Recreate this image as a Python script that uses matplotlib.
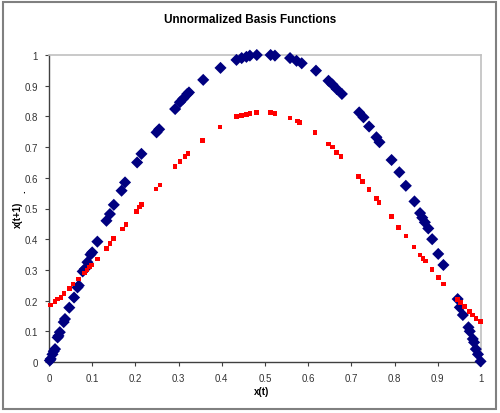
import matplotlib
matplotlib.use("Agg")
import matplotlib.pyplot as plt
from matplotlib.patches import Rectangle

plt.rcParams['font.family'] = ['Liberation Sans', 'DejaVu Sans']

title = "Unnormalized Basis Functions"
xlabel = "x(t)"
ylabel = "x(t+1)"
ticks = [0, 0.1, 0.2, 0.3, 0.4, 0.5, 0.6, 0.7, 0.8, 0.9, 1]
tick_labels = ["0", "0.1", "0.2", "0.3", "0.4", "0.5", "0.6", "0.7", "0.8", "0.9", "1"]

blue_x = [0.002, 0.004, 0.008, 0.011, 0.014, 0.020, 0.022, 0.025, 0.034, 0.037,
          0.047, 0.058, 0.066, 0.069, 0.078, 0.083, 0.089, 0.096, 0.100, 0.112,
          0.133, 0.141, 0.150, 0.168, 0.176, 0.204, 0.214, 0.249, 0.255, 0.292,
          0.303, 0.311, 0.320, 0.324, 0.357, 0.397, 0.434, 0.446, 0.457, 0.465,
          0.481, 0.513, 0.523, 0.558, 0.573, 0.585, 0.618, 0.647, 0.656, 0.666,
          0.678, 0.718, 0.728, 0.741, 0.758, 0.765, 0.793, 0.811, 0.826, 0.846,
          0.859, 0.864, 0.870, 0.878, 0.887, 0.901, 0.913, 0.946, 0.951, 0.958,
          0.971, 0.974, 0.981, 0.984, 0.988, 0.993, 0.999]
blue_y = [0.005, 0.010, 0.025, 0.035, 0.042, 0.080, 0.085, 0.097, 0.130, 0.140,
          0.177, 0.210, 0.243, 0.249, 0.295, 0.303, 0.325, 0.350, 0.357, 0.392,
          0.460, 0.482, 0.512, 0.558, 0.585, 0.650, 0.678, 0.748, 0.758, 0.824,
          0.846, 0.858, 0.873, 0.878, 0.919, 0.958, 0.984, 0.990, 0.994, 0.998,
          1.000, 1.000, 0.998, 0.990, 0.981, 0.973, 0.949, 0.916, 0.904, 0.889,
          0.873, 0.813, 0.797, 0.767, 0.732, 0.716, 0.658, 0.618, 0.574, 0.523,
          0.485, 0.470, 0.455, 0.435, 0.400, 0.352, 0.316, 0.205, 0.178, 0.153,
          0.113, 0.100, 0.075, 0.064, 0.042, 0.025, 0.002]

red_x = [0.004, 0.014, 0.020, 0.028, 0.035, 0.047, 0.056, 0.068, 0.082, 0.088,
         0.094, 0.099, 0.112, 0.133, 0.141, 0.150, 0.170, 0.178, 0.203, 0.209,
         0.214, 0.248, 0.257, 0.292, 0.303, 0.315, 0.322, 0.356, 0.396, 0.434,
         0.446, 0.457, 0.465, 0.481, 0.513, 0.523, 0.558, 0.575, 0.580, 0.616,
         0.647, 0.656, 0.666, 0.676, 0.716, 0.726, 0.741, 0.758, 0.764, 0.793,
         0.809, 0.826, 0.845, 0.859, 0.866, 0.871, 0.887, 0.901, 0.913, 0.946,
         0.953, 0.962, 0.974, 0.981, 0.988, 0.999]
red_y = [0.186, 0.197, 0.205, 0.210, 0.224, 0.240, 0.254, 0.270, 0.290, 0.300,
         0.310, 0.316, 0.335, 0.370, 0.386, 0.403, 0.433, 0.447, 0.490, 0.505,
         0.513, 0.563, 0.577, 0.636, 0.654, 0.669, 0.680, 0.721, 0.766, 0.799,
         0.803, 0.807, 0.810, 0.813, 0.813, 0.810, 0.795, 0.785, 0.780, 0.748,
         0.710, 0.700, 0.683, 0.669, 0.604, 0.587, 0.561, 0.533, 0.520, 0.473,
         0.439, 0.410, 0.375, 0.349, 0.337, 0.329, 0.301, 0.276, 0.254, 0.203,
         0.193, 0.180, 0.164, 0.153, 0.142, 0.131]

W, H = 500, 414
fig = plt.figure(figsize=(W / 100, H / 100), dpi=100)
fig.patch.set_facecolor("white")

# outer chart border
fig.patches.append(Rectangle((3 / W, 1 - 410 / H), 493 / W, 407 / H,
                             transform=fig.transFigure, fill=False,
                             edgecolor="#808080", linewidth=1.5))

left, right, top, bottom = 49, 481, 56, 363
ax = fig.add_axes([left / W, 1 - bottom / H, (right - left) / W, (bottom - top) / H])
ax.set_xlim(0, 1)
ax.set_ylim(0, 1)
ax.set_xticks(ticks)
ax.set_xticklabels(tick_labels)
ax.set_yticks(ticks)
ax.set_yticklabels(tick_labels)

ax.scatter(blue_x, blue_y, marker="D", s=38, color="#000080", edgecolors="none",
           zorder=3, clip_on=False)
ax.scatter(red_x, red_y, marker="s", s=11, color="#FF0000", edgecolors="none",
           zorder=4, clip_on=False)

for s in ["top", "right"]:
    ax.spines[s].set_color("#C0C0C0")
    ax.spines[s].set_linewidth(1.2)
for s in ["left", "bottom"]:
    ax.spines[s].set_color("#404040")
    ax.spines[s].set_linewidth(1.0)

ax.tick_params(direction="out", length=3, width=0.8, color="#404040",
               labelsize=7, labelcolor="#333333", pad=5)

fig.text(0.5, 1 - 20 / H, title, ha="center", va="center",
         fontsize=8.5, fontweight="bold", color="black")
fig.text(262 / W, 1 - 392 / H, xlabel, ha="center", va="center",
         fontsize=7, fontweight="bold", color="black")
fig.text(18 / W, 1 - 215 / H, ylabel, ha="center", va="center", rotation=90,
         fontsize=7, fontweight="bold", color="black")
fig.text(22 / W, 1 - 192 / H, ".", ha="center", va="center", rotation=90,
         fontsize=7, fontweight="bold", color="black")

fig.savefig("out.png", dpi=100, facecolor="white")
